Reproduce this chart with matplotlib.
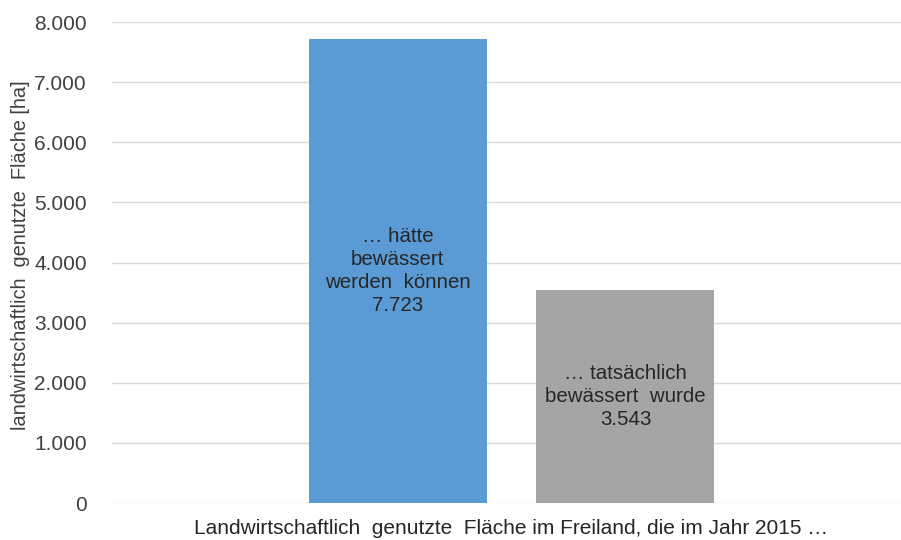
import matplotlib
matplotlib.use("Agg")
import matplotlib.pyplot as plt
from matplotlib.ticker import FuncFormatter

plt.rcParams['font.family'] = ['Liberation Sans', 'DejaVu Sans']

series_labels = ["… hätte\nbewässert\nwerden  können", "… tatsächlich\nbewässert  wurde"]
values = [7723, 3543]
value_text = ["7.723", "3.543"]
colors = ["#5B9BD5", "#A5A5A5"]
category = "Landwirtschaftlich  genutzte  Fläche im Freiland, die im Jahr 2015 …"
yticks = [0, 1000, 2000, 3000, 4000, 5000, 6000, 7000, 8000]

fig = plt.figure(figsize=(9.01, 5.40), dpi=100)
ax = fig.add_axes([0.124, 0.0685, 0.876, 0.8905])

positions = [0, 1]
width = 0.782
bars = ax.bar(positions, values, width=width, color=colors, zorder=3)

for b, lab, vt in zip(bars, series_labels, value_text):
    ax.text(b.get_x() + b.get_width() / 2, b.get_height() / 2, lab + "\n" + vt,
            ha="center", va="center", fontsize=14.8, color="#262626",
            linespacing=1.27, zorder=4)

ax.set_xlim(-1.257, 2.211)
ax.set_ylim(0, 8000)
ax.set_yticks(yticks)
ax.yaxis.set_major_formatter(FuncFormatter(lambda v, p: f"{int(v):,}".replace(",", ".")))
ax.set_xticks([])
ax.grid(axis="y", color="#D9D9D9", linewidth=1.0, zorder=0)
for s in ax.spines.values():
    s.set_visible(False)
ax.tick_params(axis="y", length=0, pad=18, labelsize=15, labelcolor="#404040")
ax.set_ylabel("landwirtschaftlich  genutzte  Fläche [ha]", fontsize=14.4, color="#404040", labelpad=2)
ax.yaxis.set_label_coords(-0.104, 0.515)
fig.text(0.567, 0.022, category, ha="center", va="center", fontsize=15, color="#262626")

fig.savefig("out.png", dpi=100)
